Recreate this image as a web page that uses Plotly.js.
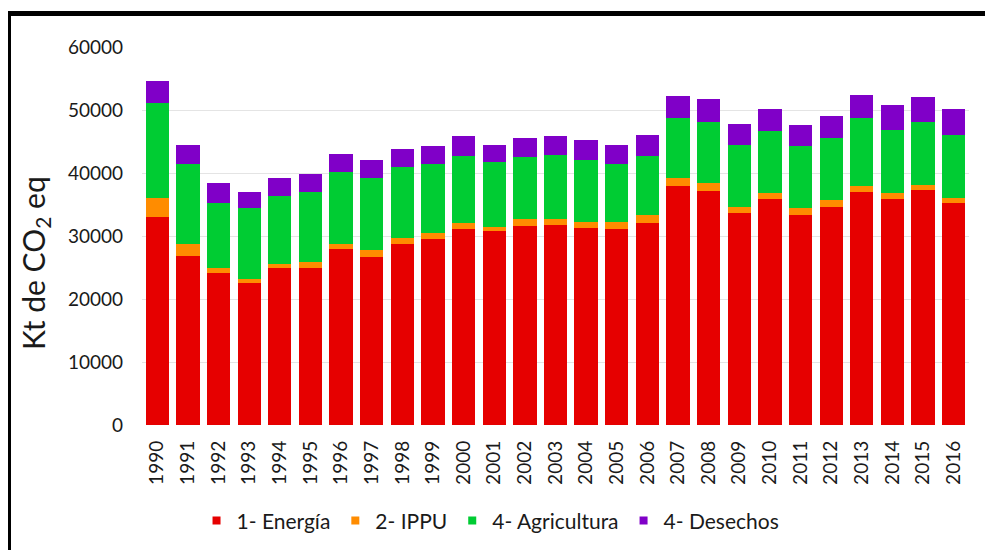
<!DOCTYPE html>
<html>
<head>
<meta charset="utf-8">
<script src="https://cdn.plot.ly/plotly-3.0.1.min.js"></script>
<style>
  html, body { margin: 0; padding: 0; background: #fff; }
  #wrap { position: relative; width: 985px; height: 550px; }
  #chart { width: 985px; height: 550px; }
  #frame { position: absolute; left: 8px; top: 11px; width: 977px; height: 539px;
           border-top: 5px solid #000; border-left: 3px solid #000; box-sizing: border-box;
           pointer-events: none; }
</style>
</head>
<body>
<div id="wrap">
  <div id="chart"></div>
  <div id="frame"></div>
</div>
<script>
var years = ["1990","1991","1992","1993","1994","1995","1996","1997","1998","1999",
             "2000","2001","2002","2003","2004","2005","2006","2007","2008","2009",
             "2010","2011","2012","2013","2014","2015","2016"];

var energia = [33000, 26900, 24200, 22600, 24900, 24900, 27950, 26700, 28800, 29550,
               31050, 30800, 31550, 31750, 31250, 31050, 32050, 37950, 37150, 33600,
               35900, 33400, 34650, 37000, 35900, 37300, 35300];

var ippu = [3100, 1800, 650, 600, 700, 1050, 750, 1150, 900, 850,
            950, 700, 1200, 1000, 950, 1150, 1250, 1250, 1250, 950,
            1000, 1000, 1000, 950, 1000, 800, 800];

var agricultura = [15050, 12700, 10450, 11200, 10800, 11100, 11450, 11350, 11250, 11000,
                   10750, 10300, 9800, 10050, 9800, 9250, 9450, 9600, 9750, 9950,
                   9750, 9850, 9900, 10850, 9950, 10000, 10000];

var desechos = [3450, 3050, 3050, 2650, 2800, 2850, 2850, 2800, 2800, 2850,
                3050, 2700, 3000, 3000, 3300, 3000, 3350, 3400, 3550, 3350,
                3450, 3350, 3550, 3650, 3900, 3900, 4050];

var seriesNames = ["1- Energía", "2- IPPU", "4- Agricultura", "4- Desechos"];
var seriesColors = ["#E60000", "#FF8C00", "#00CC33", "#8000C8"];
var seriesData = [energia, ippu, agricultura, desechos];

var traces = seriesData.map(function (vals, i) {
  return {
    type: "bar",
    x: years,
    y: vals,
    name: seriesNames[i],
    legendgroup: "g" + i,
    showlegend: false,
    marker: { color: seriesColors[i], line: { width: 0 } },
    hoverinfo: "x+y+name"
  };
});

// legend-only entries with small square swatches
seriesNames.forEach(function (nm, i) {
  traces.push({
    type: "scatter",
    mode: "markers",
    x: [null],
    y: [null],
    name: nm,
    legendgroup: "g" + i,
    showlegend: true,
    marker: { symbol: "square", size: 8, color: seriesColors[i] }
  });
});

var font = "Lato, 'Open Sans', sans-serif";

var layout = {
  width: 985,
  height: 550,
  barmode: "stack",
  bargap: 0.24,
  paper_bgcolor: "#ffffff",
  plot_bgcolor: "#ffffff",
  margin: { l: 142, r: 16, t: 47, b: 125 },
  font: { family: font, color: "#1a1a1a", size: 19 },
  showlegend: true,
  legend: {
    orientation: "h",
    x: 0.498, xanchor: "center", xref: "container",
    y: 0.053, yanchor: "middle", yref: "container",
    font: { family: font, size: 21, color: "#1a1a1a" },
    itemwidth: 30,
    traceorder: "normal"
  },
  xaxis: {
    type: "category",
    tickangle: -90,
    tickfont: { family: font, size: 19, color: "#1a1a1a" },
    ticklabelstandoff: 11,
    showgrid: false,
    showline: false,
    ticks: "",
    automargin: false
  },
  yaxis: {
    range: [0, 60000],
    dtick: 10000,
    tickformat: "d",
    showgrid: true,
    gridcolor: "#e4e4e4",
    gridwidth: 1,
    zeroline: false,
    showline: false,
    ticks: "",
    ticklabelstandoff: 18,
    tickfont: { family: font, size: 19, color: "#1a1a1a" },
    automargin: false
  },
  annotations: [{
    text: "Kt de CO<sub>2</sub> eq",
    textangle: -90,
    xref: "paper", yref: "paper",
    x: -0.1294, y: 0.4286,
    xanchor: "center", yanchor: "middle",
    showarrow: false,
    font: { family: font, size: 30, color: "#1a1a1a" }
  }]
};

Plotly.newPlot("chart", traces, layout, { displayModeBar: false, staticPlot: true });
</script>
</body>
</html>
